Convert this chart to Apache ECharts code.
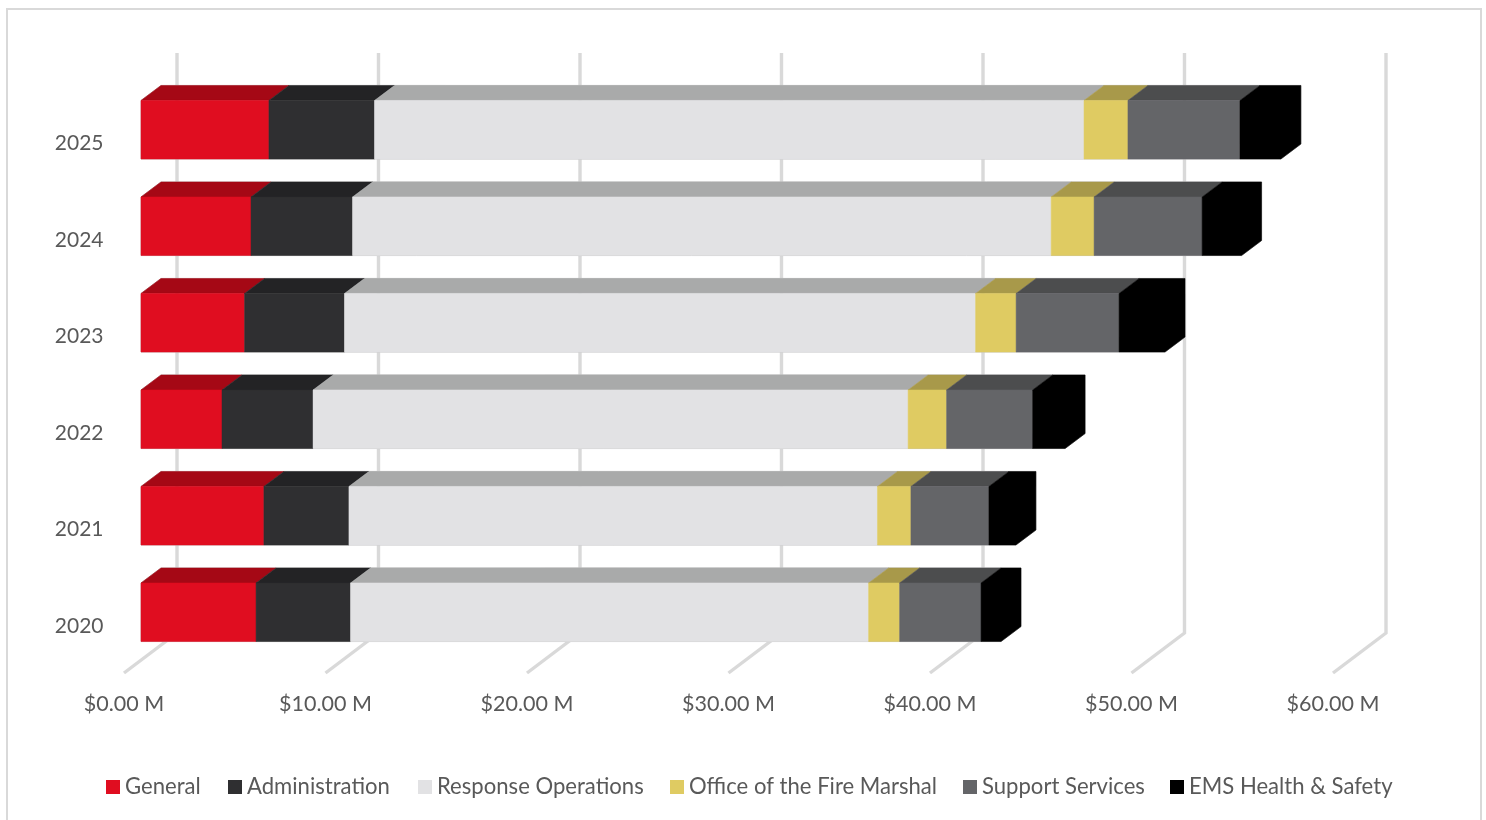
<!DOCTYPE html>
<html>
<head>
<meta charset="utf-8">
<title>Budget by division</title>
<style>
  html, body { margin: 0; padding: 0; background: #fff; }
  #chart { width: 1486px; height: 820px; }
</style>
<script src="https://cdn.jsdelivr.net/npm/echarts@6/dist/echarts.min.js"></script>
</head>
<body>
<div id="chart"></div>
<script>
// Annual budget per division, in millions of dollars.
const years = ['2020', '2021', '2022', '2023', '2024', '2025'];
const general = [5.71, 6.10, 4.02, 5.14, 5.46, 6.35];
const administration = [4.69, 4.22, 4.52, 4.96, 5.04, 5.24];
const responseOperations = [25.71, 26.23, 29.53, 31.32, 34.67, 35.21];
const fireMarshal = [1.54, 1.66, 1.91, 2.01, 2.13, 2.18];
const supportServices = [4.04, 3.87, 4.27, 5.11, 5.36, 5.56];
const emsHealthSafety = [0.99, 1.34, 1.61, 2.28, 1.96, 2.03];
const xTicks = [0, 10, 20, 30, 40, 50, 60];

const divisions = [
  { name: 'General', values: general, front: '#e00d20', top: '#a50815', legendLeft: 106 },
  { name: 'Administration', values: administration, front: '#2f2f31', top: '#232325', legendLeft: 228 },
  { name: 'Response Operations', values: responseOperations, front: '#e2e2e4', top: '#a9aaaa', legendLeft: 418 },
  { name: 'Office of the Fire Marshal', values: fireMarshal, front: '#dfcb62', top: '#a8994a', legendLeft: 670 },
  { name: 'Support Services', values: supportServices, front: '#646568', top: '#4c4d4e', legendLeft: 963 },
  { name: 'EMS Health & Safety', values: emsHealthSafety, front: '#000000', top: '#000000', legendLeft: 1170 }
];

// Oblique projection used for the pseudo-3D look.
const wall = { dx: 53, dy: -40, height: 580, floorLift: 1 };
const bar = { inset: 17, lift: 13.5, heightRatio: 0.607, dx: 20, dy: -15 };
const textColor = '#595959';
const gridColor = '#d9d9d9';
const edgeColor = '#c6c6c6';
const fontFamily = 'Lato, "Open Sans", sans-serif';

function poly(points, fill) {
  return { type: 'polygon', shape: { points }, style: { fill, stroke: fill, lineWidth: 0.5 } };
}

// Screen box of a segment between two stacked values in one year's row.
function boxOf(api) {
  const start = api.coord([api.value(0), api.value(2)]);
  const end = api.coord([api.value(1), api.value(2)]);
  const h = api.size([0, 1])[1] * bar.heightRatio;
  const yBottom = start[1] - bar.lift + h / 2;
  return { x0: start[0] + bar.inset, x1: end[0] + bar.inset, yBottom, yTop: yBottom - h };
}

function silhouette(b) {
  return [
    [b.x0, b.yTop],
    [b.x0 + bar.dx, b.yTop + bar.dy],
    [b.x1 + bar.dx, b.yTop + bar.dy],
    [b.x1 + bar.dx, b.yBottom + bar.dy],
    [b.x1, b.yBottom],
    [b.x0, b.yBottom]
  ];
}

// One box segment: the last division is flat black, so it is drawn as a single outline.
function renderSegment(params, api, colors, isLast) {
  const b = boxOf(api);
  if (isLast) {
    return poly(silhouette(b), colors.front);
  }
  return {
    type: 'group',
    children: [
      poly([[b.x0, b.yTop], [b.x0 + bar.dx, b.yTop + bar.dy], [b.x1 + bar.dx, b.yTop + bar.dy], [b.x1, b.yTop]], colors.top),
      poly([[b.x0, b.yTop], [b.x1, b.yTop], [b.x1, b.yBottom], [b.x0, b.yBottom]], colors.front)
    ]
  };
}

// Faint edge around the whole stacked box.
function renderEdge(params, api) {
  return {
    type: 'polygon',
    shape: { points: silhouette(boxOf(api)) },
    style: { fill: 'none', stroke: edgeColor, lineWidth: 1 }
  };
}

// Floor and back-wall gridline for one tick value.
function renderGridline(params, api) {
  const p = api.coord([api.value(0), 0]);
  const floorY = p[1] + api.size([0, 1])[1] / 2 - wall.floorLift;
  const backY = floorY + wall.dy;
  return {
    type: 'polyline',
    shape: { points: [[p[0], floorY], [p[0] + wall.dx, backY], [p[0] + wall.dx, backY - wall.height]] },
    style: { fill: 'none', stroke: gridColor, lineWidth: 3.4, lineJoin: 'miter' }
  };
}

const running = years.map(() => 0);
const segmentSeries = divisions.map((d, di) => {
  const data = d.values.map((v, i) => {
    const row = [running[i], running[i] + v, i];
    running[i] += v;
    return row;
  });
  return {
    type: 'custom',
    name: d.name,
    z: 5,
    silent: true,
    itemStyle: { color: d.front },
    encode: { x: [0, 1], y: 2 },
    data,
    renderItem: (params, api) => renderSegment(params, api, d, di === divisions.length - 1)
  };
});

const edgeSeries = {
  type: 'custom',
  name: 'edges',
  z: 4,
  silent: true,
  encode: { x: [0, 1], y: 2 },
  data: running.map((total, i) => [0, total, i]),
  renderItem: renderEdge
};

const gridSeries = {
  type: 'custom',
  name: 'gridlines',
  z: 1,
  silent: true,
  encode: { x: 0 },
  data: xTicks.map(v => [v]),
  renderItem: renderGridline
};

const chart = echarts.init(document.getElementById('chart'), null, { renderer: 'canvas' });
chart.setOption({
  animation: false,
  backgroundColor: '#ffffff',
  textStyle: { fontFamily },
  graphic: [{
    type: 'rect',
    silent: true,
    z: 0,
    shape: { x: 7, y: 9, width: 1474, height: 830 },
    style: { fill: 'none', stroke: gridColor, lineWidth: 2 }
  }],
  grid: { left: 124, right: 153, top: 95, height: 579, containLabel: false },
  xAxis: {
    type: 'value',
    min: 0,
    max: 60,
    interval: 10,
    axisLine: { show: false },
    axisTick: { show: false },
    splitLine: { show: false },
    axisLabel: {
      color: textColor,
      fontSize: 21.5,
      fontFamily,
      margin: 19,
      formatter: v => '$' + v.toFixed(2) + ' M'
    }
  },
  yAxis: {
    type: 'category',
    data: years,
    axisLine: { show: false },
    axisTick: { show: false },
    splitLine: { show: false },
    axisLabel: { color: textColor, fontSize: 21, fontFamily, margin: 20.5 }
  },
  legend: divisions.map(d => ({
    data: [d.name],
    left: d.legendLeft,
    top: 776,
    padding: 0,
    icon: 'rect',
    itemWidth: 14,
    itemHeight: 14,
    selectedMode: false,
    textStyle: { color: textColor, fontSize: 22.1, fontFamily }
  })),
  series: [gridSeries, edgeSeries].concat(segmentSeries)
});
</script>
</body>
</html>
